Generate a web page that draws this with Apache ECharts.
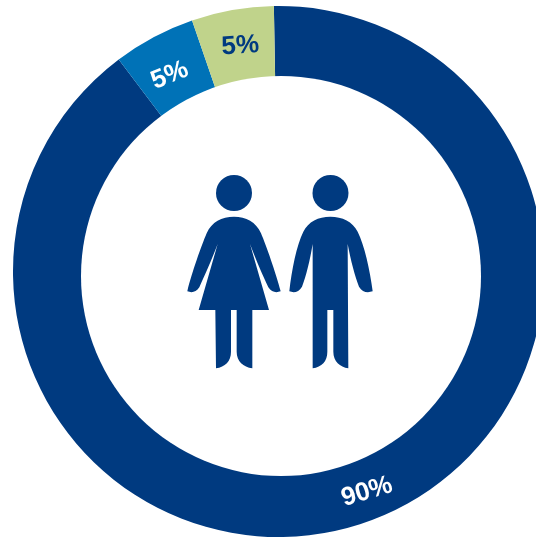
<!DOCTYPE html>
<html>
<head>
<meta charset="utf-8">
<style>html,body{margin:0;padding:0;background:#fff}#chart{width:536px;height:538px}</style>
<script src="https://cdn.jsdelivr.net/npm/echarts@6/dist/echarts.min.js"></script>
</head>
<body>
<div id="chart"></div>
<script>
// Share of people per group, in percent, clockwise from the top
const shares = [90, 5, 5];
const sliceColors = ['#003A80', '#0072B7', '#C0D38B'];
const labelColors = ['#ffffff', '#ffffff', '#003A80'];
const labelAngles = [17, 22, 4];
const labelNudgeX = [12, -3, 2];
const labelNudgeY = [4, 9, 4];
const navy = '#003A80';

// Pictogram outlines, drawn on a 3x grid and scaled down into the ring's centre
const womanBody = 'M162 140C125 140 95 155 80 190C65 225 35 310 22 364C35 369 48 367 58 352C72 320 95 270 113 222L56 420L106 420L108 595C135 590 153 575 153 545L153 420L170 420L170 545C170 575 190 590 217 595L217 420L267 420L210 222C228 270 250 320 265 352C275 367 288 369 302 364C288 310 258 225 243 190C228 155 198 140 162 140Z';
const manBody = 'M451 140C415 140 385 155 370 185C350 225 335 300 328 364C342 369 356 367 366 350C378 320 390 270 398 222L398 595C425 590 442 575 442 545L442 420L460 420L460 545C460 575 480 590 505 595L503 222C512 270 525 320 537 350C547 367 562 369 578 364C570 300 553 225 533 185C518 155 487 140 451 140Z';

// The white disc sits slightly off the ring's own centre, so it is drawn over the pie's hole
function drawCentre() {
  const body = d => ({
    type: 'path',
    x: 180, y: 170, scaleX: 1 / 3, scaleY: 1 / 3,
    shape: { pathData: d },
    style: { fill: navy }
  });
  return {
    type: 'group',
    children: [
      { type: 'circle', shape: { cx: 281, cy: 276, r: 200 }, style: { fill: '#ffffff' } },
      { type: 'circle', shape: { cx: 234, cy: 193, r: 18 }, style: { fill: navy } },
      { type: 'circle', shape: { cx: 330.5, cy: 193, r: 18 }, style: { fill: navy } },
      body(womanBody),
      body(manBody)
    ]
  };
}

const chart = echarts.init(document.getElementById('chart'), null, { renderer: 'canvas' });
chart.setOption({
  backgroundColor: '#ffffff',
  animation: false,
  series: [{
    type: 'pie',
    center: [278.5, 271.5],
    radius: [194, 265.5],
    startAngle: 91,
    clockwise: true,
    avoidLabelOverlap: false,
    silent: true,
    z: 1,
    data: shares.map((value, i) => ({
      value,
      itemStyle: { color: sliceColors[i] },
      label: { color: labelColors[i], rotate: labelAngles[i] }
    })),
    labelLine: { show: false },
    labelLayout: params => ({ dx: labelNudgeX[params.dataIndex], dy: labelNudgeY[params.dataIndex] }),
    label: {
      show: true,
      position: 'inside',
      formatter: '{c}%',
      fontFamily: '"Liberation Sans", Arial, sans-serif',
      fontWeight: 'bold',
      fontSize: 26
    }
  }, {
    type: 'custom',
    coordinateSystem: 'none',
    silent: true,
    z: 3,
    data: [0],
    renderItem: drawCentre
  }]
});
</script>
</body>
</html>
